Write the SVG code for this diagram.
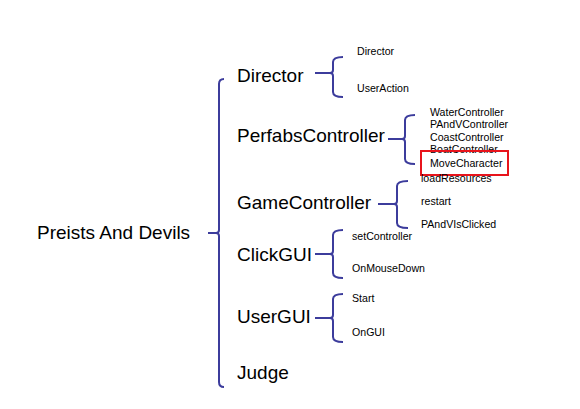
<svg xmlns="http://www.w3.org/2000/svg" width="580" height="409" viewBox="0 0 580 409">
<style>
.br{fill:none;stroke:#3c3c9c;stroke-width:2;stroke-linecap:butt}
.big{font-family:"Liberation Sans",Arial,sans-serif;font-size:19px;fill:#000}
.sm{font-family:"Liberation Sans",Arial,sans-serif;font-size:10.6px;fill:#000}
</style>
<rect width="580" height="409" fill="#fff"/>
<g id="connectors">
<path class="br" d="M224 79 Q219 79 219 84 V230 Q219 233 216 233 H208 M216 233 Q219 233 219 236 V382 Q219 387 224 387"/>
<path class="br" d="M343 57 Q333 57 333 62 V70 Q333 73 330 73 H315 M330 73 Q333 73 333 76 V92 Q333 97 343 97"/>
<path class="br" d="M415 115 Q405 115 405 120 V136 Q405 139 402 139 H388 M402 139 Q405 139 405 142 V159 Q405 164 415 164"/>
<path class="br" d="M408 181 Q397 181 397 186 V201 Q397 204 394 204 H378 M394 204 Q397 204 397 207 V223 Q397 228 408 228"/>
<path class="br" d="M343 230 Q333 230 333 235 V251 Q333 254 330 254 H315 M330 254 Q333 254 333 257 V273 Q333 278 343 278"/>
<path class="br" d="M343 294 Q333 294 333 299 V315 Q333 318 330 318 H315 M330 318 Q333 318 333 321 V337 Q333 342 343 342"/>
</g>
<g id="root"><text class="big" x="37" y="239">Preists And Devils</text></g>
<g id="director"><text class="big" x="237" y="82">Director</text></g>
<g id="director-director"><text class="sm" x="357" y="55">Director</text></g>
<g id="director-useraction"><text class="sm" x="357" y="92">UserAction</text></g>
<g id="perfabs"><text class="big" x="237" y="142">PerfabsController</text></g>
<g id="perfabs-water"><text class="sm" x="430" y="116">WaterController</text></g>
<g id="perfabs-pandv"><text class="sm" x="430" y="128">PAndVController</text></g>
<g id="perfabs-coast"><text class="sm" x="430" y="141">CoastController</text></g>
<g id="perfabs-boat"><text class="sm" x="430" y="153">BoatController</text></g>
<g id="perfabs-move"><rect x="421" y="151" width="87" height="24" fill="none" stroke="#e8141c" stroke-width="2"/><text class="sm" x="430" y="167">MoveCharacter</text></g>
<g id="game"><text class="big" x="237" y="209">GameController</text></g>
<g id="game-load"><text class="sm" x="421" y="182">loadResources</text></g>
<g id="game-restart"><text class="sm" x="421" y="205">restart</text></g>
<g id="game-pandv"><text class="sm" x="421" y="228">PAndVIsClicked</text></g>
<g id="clickgui"><text class="big" x="237" y="261">ClickGUI</text></g>
<g id="clickgui-set"><text class="sm" x="352" y="240">setController</text></g>
<g id="clickgui-mouse"><text class="sm" x="352" y="272">OnMouseDown</text></g>
<g id="usergui"><text class="big" x="237" y="323">UserGUI</text></g>
<g id="usergui-start"><text class="sm" x="352" y="302">Start</text></g>
<g id="usergui-ongui"><text class="sm" x="352" y="336">OnGUI</text></g>
<g id="judge"><text class="big" x="237" y="379">Judge</text></g>
</svg>
